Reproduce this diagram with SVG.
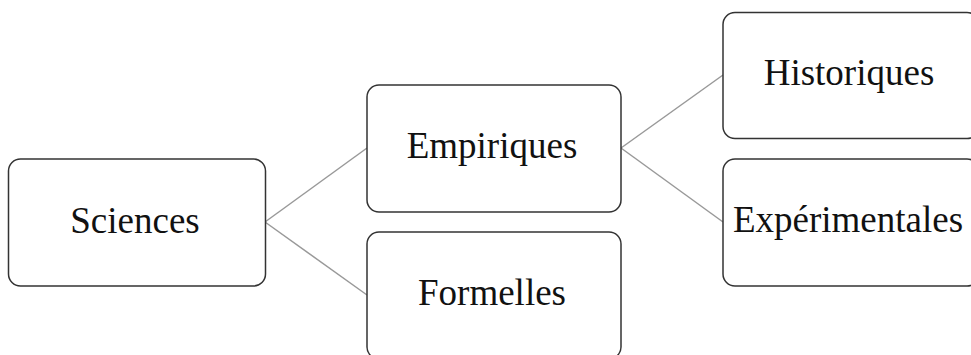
<svg xmlns="http://www.w3.org/2000/svg" width="971" height="355" viewBox="0 0 971 355">
<style>
.box{fill:#fff;stroke:#333;stroke-width:1.5}
.lbl{font-family:"Liberation Serif","Times New Roman",serif;font-size:37px;fill:#111;text-anchor:middle}
.con{stroke:#999;stroke-width:1.5;fill:none}
</style>
<rect width="971" height="355" fill="#fff"/>
<g id="connectors">
<line class="con" x1="265" y1="222" x2="367" y2="148"/>
<line class="con" x1="265" y1="222" x2="367" y2="295"/>
<line class="con" x1="621" y1="148" x2="723" y2="75"/>
<line class="con" x1="621" y1="148" x2="723" y2="222"/>
</g>
<g id="sciences"><rect class="box" x="8.5" y="159" width="257" height="127" rx="12"/><text class="lbl" x="135" y="233">Sciences</text></g>
<g id="empiriques"><rect class="box" x="367" y="85" width="254" height="127" rx="12"/><text class="lbl" x="492" y="158">Empiriques</text></g>
<g id="formelles"><rect class="box" x="367" y="232" width="254" height="127" rx="12"/><text class="lbl" x="492" y="305">Formelles</text></g>
<g id="historiques"><rect class="box" x="723" y="12.5" width="256" height="126" rx="12"/><text class="lbl" x="849" y="85">Historiques</text></g>
<g id="experimentales"><rect class="box" x="723" y="159" width="256" height="127" rx="12"/><text class="lbl" x="848" y="232">Expérimentales</text></g>
</svg>
